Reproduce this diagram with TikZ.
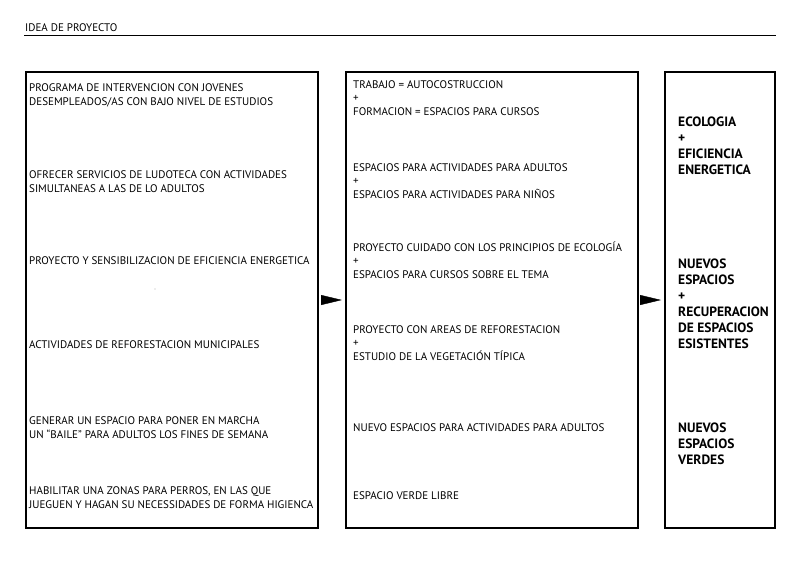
\documentclass[tikz,border=0pt]{standalone}
\usepackage{fontspec}
\setmainfont{PT Sans}
\usetikzlibrary{arrows.meta,positioning}

\begin{document}
\begin{tikzpicture}[x=1pt,y=-1pt,
  caja/.style={draw=black,line width=2pt,anchor=north west,inner sep=0pt},
  texto/.style={anchor=base west,align=left,inner sep=0pt,font=\fontsize{11}{13.6}\selectfont},
  resumen/.style={anchor=base west,align=left,inner sep=0pt,font=\fontsize{13.5}{16}\selectfont\bfseries},
  flecha/.style={-{Triangle[length=21pt,width=10pt]},line width=0.4pt,shorten <=3pt,shorten >=3pt}]
\useasboundingbox (0,0) rectangle (800,566);
% titulo
\node[anchor=base west,inner sep=0pt,font=\fontsize{11}{12}\selectfont] (titulo) at (25,31.5) {IDEA DE PROYECTO};
\draw[line width=0.8pt] (24,35) -- (776,35);
% cajas
\node[caja,minimum width=292pt,minimum height=456pt] (ideas) at (25,71) {};
\node[caja,minimum width=292pt,minimum height=456pt] (espacios) at (345,71) {};
\node[caja,minimum width=110pt,minimum height=456pt] (objetivos) at (664,71) {};
% flechas
\draw[flecha] (ideas) -- (espacios);
\draw[flecha] (espacios) -- (objetivos);
% textos izquierda (y = base de la ultima linea)
\foreach \y/\t [count=\i] in {
  105.5/{PROGRAMA DE INTERVENCION CON JOVENES\\DESEMPLEADOS/AS CON BAJO NIVEL DE ESTUDIOS},
  192.5/{OFRECER SERVICIOS DE LUDOTECA CON ACTIVIDADES\\SIMULTANEAS A LAS DE LO ADULTOS},
  264.5/{PROYECTO Y SENSIBILIZACION DE EFICIENCIA ENERGETICA},
  348.5/{ACTIVIDADES DE REFORESTACION MUNICIPALES},
  438.5/{GENERAR UN ESPACIO PARA PONER EN MARCHA\\UN “BAILE” PARA ADULTOS LOS FINES DE SEMANA},
  508.5/{HABILITAR UNA ZONAS PARA PERROS, EN LAS QUE\\JUEGUEN Y HAGAN SU NECESSIDADES DE FORMA HIGIENCA}}
  \node[texto] (idea\i) at (29,\y) {\t};
\fill[gray!60] (155,289) circle (0.6);
% textos centro
\foreach \y/\t [count=\i] in {
  115.5/{TRABAJO = AUTOCOSTRUCCION\\+\\FORMACION = ESPACIOS PARA CURSOS},
  198.5/{ESPACIOS PARA ACTIVIDADES PARA ADULTOS\\+\\ESPACIOS PARA ACTIVIDADES PARA NIÑOS},
  278.5/{PROYECTO CUIDADO CON LOS PRINCIPIOS DE ECOLOGÍA\\+\\ESPACIOS PARA CURSOS SOBRE EL TEMA},
  360.5/{PROYECTO CON AREAS DE REFORESTACION\\+\\ESTUDIO DE LA VEGETACIÓN TÍPICA},
  431.5/{NUEVO ESPACIOS PARA ACTIVIDADES PARA ADULTOS},
  499.5/{ESPACIO VERDE LIBRE}}
  \node[texto] (espacio\i) at (353,\y) {\t};
% textos derecha
\foreach \y/\t [count=\i] in {
  174.5/{ECOLOGIA\\+\\EFICIENCIA\\ENERGETICA},
  348.5/{NUEVOS\\ESPACIOS\\+\\RECUPERACION\\DE ESPACIOS\\ESISTENTES},
  464.5/{NUEVOS\\ESPACIOS\\VERDES}}
  \node[resumen] (objetivo\i) at (678,\y) {\t};
\end{tikzpicture}
\end{document}
